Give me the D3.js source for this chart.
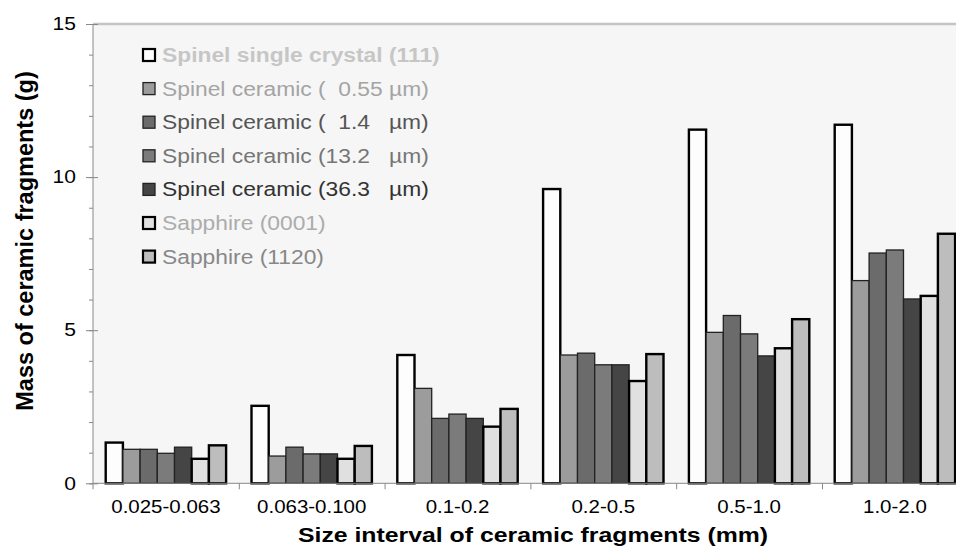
<!DOCTYPE html>
<html>
<head>
<meta charset="utf-8">
<script src="https://cdn.jsdelivr.net/npm/d3@7"></script>
<style>
  body { margin: 0; background: #fff; }
  svg { display: block; font-family: "Liberation Sans", Arial, sans-serif; }
</style>
</head>
<body>
<div id="container"></div>
<script>
// size intervals (mm)
const categories = ["0.025-0.063", "0.063-0.100", "0.1-0.2", "0.2-0.5", "0.5-1.0", "1.0-2.0"];

// series names, as in the legend
const seriesNames = [
  "Spinel single crystal (111)",
  "Spinel ceramic (  0.55 µm)",
  "Spinel ceramic (  1.4   µm)",
  "Spinel ceramic (13.2   µm)",
  "Spinel ceramic (36.3   µm)",
  "Sapphire (0001)",
  "Sapphire (1120)"
];

// mass of fragments (g), one array per series
const spinelCrystal = [1.33, 2.53, 4.19, 9.61, 11.55, 11.71];
const ceramic055   = [1.11, 0.89, 3.10, 4.19, 4.93, 6.62];
const ceramic14    = [1.11, 1.18, 2.12, 4.25, 5.48, 7.52];
const ceramic132   = [0.98, 0.96, 2.26, 3.87, 4.88, 7.62];
const ceramic363   = [1.18, 0.96, 2.12, 3.87, 4.16, 6.02];
const sapphire0001 = [0.80, 0.80, 1.85, 3.34, 4.41, 6.12];
const sapphire1120 = [1.24, 1.22, 2.43, 4.22, 5.36, 8.15];

const seriesValues = [spinelCrystal, ceramic055, ceramic14, ceramic132, ceramic363, sapphire0001, sapphire1120];

const yMajor = [0, 5, 10, 15];

// look
const fills      = ["#fdfdfd", "#9c9c9c", "#6b6b6b", "#7b7b7b", "#454545", "#e0e0e0", "#bdbdbd"];
const textColors = ["#c6c6c6", "#a4a4a4", "#555555", "#767676", "#333333", "#acacac", "#888888"];
const heavyEdge  = [true, false, false, false, false, true, true];

const W = 956, H = 549;
const plotLeft = 93, plotTop = 24, plotBottom = 483.3;
const step = 145.8;
const plotRight = plotLeft + step * categories.length;
const wide = 1.17; // the picture's text is drawn wider than it is tall

// widen text horizontally, keeping its anchor
function widen(sel, k) {
  sel.each(function() {
    const w = this.getComputedTextLength();
    d3.select(this)
        .attr("textLength", w * k)
        .attr("lengthAdjust", "spacingAndGlyphs");
  });
}

let viz = d3.select("#container")
  .append("svg")
    .attr("width", W)
    .attr("height", H)
;

// scales
const x = d3.scaleBand()
    .domain(categories)
    .range([plotLeft, plotRight])
    .padding(0);

const xInner = d3.scaleBand()
    .domain(d3.range(seriesNames.length))
    .range([12.7, step - 12.7])
    .padding(0);

const xEdge = d3.scaleLinear()
    .domain([0, categories.length])
    .range([plotLeft, plotRight]);

const y = d3.scaleLinear()
    .domain([0, 15])
    .range([plotBottom, plotTop]);

// plot area background
viz.append("rect")
    .attr("x", plotLeft)
    .attr("y", plotTop)
    .attr("width", W - plotLeft)
    .attr("height", plotBottom - plotTop)
    .attr("fill", "#f6f6f6")
;

// top border of plot area
viz.append("line")
    .attr("x1", plotLeft)
    .attr("x2", W)
    .attr("y1", plotTop)
    .attr("y2", plotTop)
    .attr("stroke", "#c4c4c4")
    .attr("stroke-width", 2.5)
;

// bars
const rows = [];
seriesValues.forEach((vals, s) => {
  vals.forEach((v, c) => rows.push({ s: s, c: categories[c], v: v }));
});

viz.append("g")
  .selectAll("rect")
  .data(rows)
  .join("rect")
    .attr("x", d => x(d.c) + xInner(d.s))
    .attr("y", d => y(d.v))
    .attr("width", xInner.bandwidth())
    .attr("height", d => plotBottom - y(d.v))
    .attr("fill", d => fills[d.s])
    .attr("stroke", d => heavyEdge[d.s] ? "#000" : "#222")
    .attr("stroke-width", d => heavyEdge[d.s] ? 2.4 : 1.3)
;

// y axis, minor ticks
viz.append("g")
    .attr("transform", `translate(${plotLeft},0)`)
    .call(d3.axisLeft(y).tickValues(d3.range(0, 16)).tickSize(4).tickFormat(""))
    .call(g => g.select(".domain").attr("stroke", "#888").attr("d", `M0,${plotTop}V${plotBottom + 6}`))
    .call(g => g.selectAll(".tick line").attr("stroke", "#888"))
;

// y axis, major ticks and labels
viz.append("g")
    .attr("transform", `translate(${plotLeft},0)`)
    .call(d3.axisLeft(y).tickValues(yMajor).tickSize(7).tickPadding(10))
    .call(g => g.select(".domain").remove())
    .call(g => g.selectAll(".tick line").attr("stroke", "#888").attr("x2", -7).attr("x1", 5))
    .call(g => g.selectAll(".tick text")
        .attr("fill", "#000")
        .attr("font-size", 18)
        .attr("font-family", "Liberation Sans, Arial, sans-serif")
        .call(widen, wide))
;

// x axis line and boundary ticks
viz.append("g")
    .attr("transform", `translate(0,${plotBottom})`)
    .call(d3.axisBottom(xEdge).tickValues(d3.range(1, categories.length)).tickSize(6).tickFormat(""))
    .call(g => g.select(".domain").attr("stroke", "#888").attr("d", `M${plotLeft},0H${W}`))
    .call(g => g.selectAll(".tick line").attr("stroke", "#888"))
;

// x category labels
viz.append("g")
    .attr("transform", `translate(0,${plotBottom})`)
    .call(d3.axisBottom(x).tickSize(0).tickPadding(17))
    .call(g => g.select(".domain").remove())
    .call(g => g.selectAll(".tick text")
        .attr("fill", "#000")
        .attr("font-size", 17.5)
        .attr("font-family", "Liberation Sans, Arial, sans-serif")
        .call(widen, wide))
;

// axis titles
viz.append("text")
    .text("Size interval of ceramic fragments (mm)")
    .attr("x", 533)
    .attr("y", 542)
    .attr("text-anchor", "middle")
    .attr("font-size", 20.5)
    .attr("font-weight", "bold")
    .attr("fill", "#000")
    .call(widen, 1.21)
;

viz.append("text")
    .text("Mass of ceramic fragments (g)")
    .attr("transform", "translate(33,241) rotate(-90)")
    .attr("text-anchor", "middle")
    .attr("font-size", 23.5)
    .attr("font-weight", "bold")
    .attr("fill", "#000")
;

// legend
const legend = viz.append("g")
  .selectAll("g")
  .data(seriesNames)
  .join("g")
    .attr("transform", (d, i) => `translate(143,${55 + i * 33.6})`)
;

legend.append("rect")
    .attr("x", 0)
    .attr("y", -6)
    .attr("width", 12)
    .attr("height", 12)
    .attr("fill", (d, i) => fills[i])
    .attr("stroke", (d, i) => heavyEdge[i] ? "#000" : "#222")
    .attr("stroke-width", (d, i) => heavyEdge[i] ? 2.2 : 1.3)
;

legend.append("text")
    .text(d => d)
    .attr("x", 19)
    .attr("y", 7)
    .attr("font-size", 19.5)
    .attr("font-weight", (d, i) => i === 0 ? "bold" : "normal")
    .attr("fill", (d, i) => textColors[i])
    .style("white-space", "pre")
    .call(widen, wide)
;
</script>
</body>
</html>
